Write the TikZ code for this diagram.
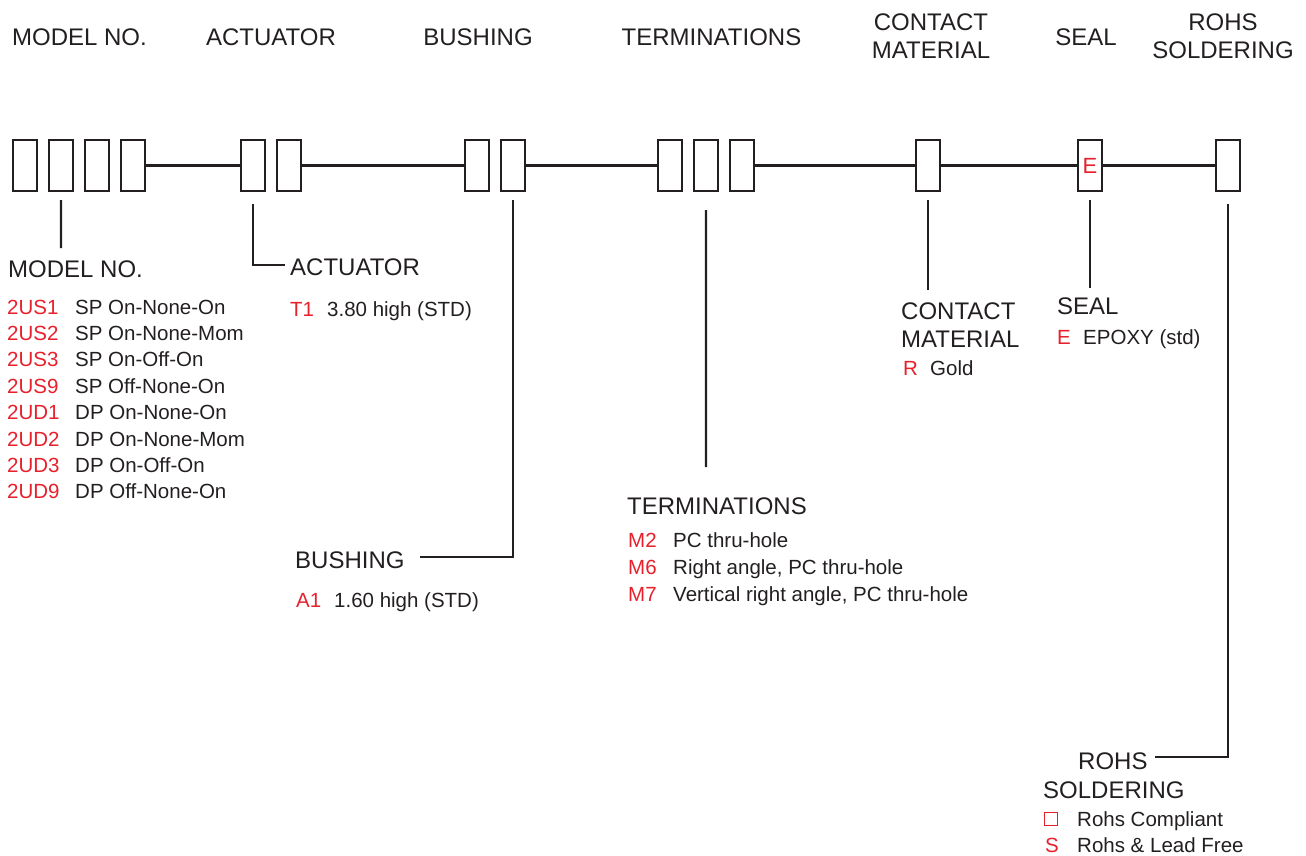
\documentclass[tikz,border=0pt]{standalone}
\usepackage{fontspec}
\setmainfont{Liberation Sans}
\usetikzlibrary{chains,positioning}
\definecolor{codered}{RGB}{232,32,44}
\definecolor{ink}{RGB}{35,31,32}
\tikzset{
  digit/.style={draw=ink,line width=2.2pt,minimum width=23.8pt,minimum height=50.8pt,inner sep=0pt},
  lead/.style={draw=ink,line width=2.2pt},
  hdrtext/.style={font=\fontsize{24}{28}\selectfont,text=ink,inner sep=0pt,align=center},
  grptext/.style={font=\fontsize{24}{28}\selectfont,text=ink,inner sep=0pt,anchor=base west,align=left},
  itemtext/.style={font=\fontsize{20.5}{24}\selectfont,text=ink,inner sep=0pt,anchor=base west},
  codetext/.style={itemtext,text=codered}
}
\begin{document}
\begin{tikzpicture}[x=1pt,y=-1pt]
\useasboundingbox (0,0) rectangle (1306,856);

\node[hdrtext] (hmodel) at (79.5,37) {MODEL NO.};
\node[hdrtext] (hact) at (271,37) {ACTUATOR};
\node[hdrtext] (hbush) at (478,37) {BUSHING};
\node[hdrtext] (hterm) at (711.5,37) {TERMINATIONS};
\node[hdrtext] (hcont) at (931,36) {CONTACT\\MATERIAL};
\node[hdrtext] (hseal) at (1086,37) {SEAL};
\node[hdrtext] (hrohs) at (1223,36) {ROHS\\SOLDERING};

\foreach \g/\n/\x in {m/4/25,a/2/253,b/2/477,t/3/670,c/1/928,s/1/1090,r/1/1228}
{
\begin{scope}[shift={(\x,165.5)},start chain=going right,node distance=10pt]
\foreach \i in {1,...,\n}
  \node [digit,on chain] (\g\i) {};
\end{scope}
}
\node[codetext,anchor=center,font=\fontsize{22}{24}\selectfont] (sE) at (s1.center) {E};

\draw[lead] (m4) -- (a1) (a2) -- (b1) (b2) -- (t1) (t3) -- (c1) (c1) -- (s1) (s1) -- (r1);

\coordinate (kmodel) at (61,248);
\coordinate (kact) at (285,265);
\coordinate (kbush) at (420,557);
\coordinate (kterm) at (706,467);
\coordinate (kcont) at (928,290);
\coordinate (kseal) at (1090,288);
\coordinate (krohs) at (1155,757);

\draw[lead] ([yshift=-8pt]m2.south) -- (kmodel);
\draw[lead] ([yshift=-12pt]a1.south) |- (kact);
\draw[lead] ([yshift=-8pt]b2.south) |- (kbush);
\draw[lead] ([yshift=-18pt]t2.south) -- (kterm);
\draw[lead] ([yshift=-8pt]c1.south) -- (kcont);
\draw[lead] ([yshift=-8pt]s1.south) -- (kseal);
\draw[lead] ([yshift=-12pt]r1.south) |- (krohs);

\node[grptext] (lmodel) at (8,277) {MODEL NO.};
\def\models{2US1/SP On-None-On,2US2/SP On-None-Mom,2US3/SP On-Off-On,2US9/SP Off-None-On,2UD1/DP On-None-On,2UD2/DP On-None-Mom,2UD3/DP On-Off-On,2UD9/DP Off-None-On}
\foreach \c/\d [count=\k] in \models
{
  \node[codetext] (mc\k) at (7,314+26.4*\k-26.4) {\c};
  \node[itemtext] (md\k) at (75,314+26.4*\k-26.4) {\d};
}

\node[grptext] (lact) at (290,275) {ACTUATOR};
\node[codetext] (ac1) at (290,316) {T1};
\node[itemtext] (ad1) at (327,316) {3.80 high (STD)};

\node[grptext] (lbush) at (295,568) {BUSHING};
\node[codetext] (bc1) at (296,607) {A1};
\node[itemtext] (bd1) at (334,607) {1.60 high (STD)};

\node[grptext] (lterm) at (627,514) {TERMINATIONS};
\def\terms{M2/PC thru-hole,M6/{Right angle, PC thru-hole},M7/{Vertical right angle, PC thru-hole}}
\foreach \c/\d [count=\k] in \terms
{
  \node[codetext] (tc\k) at (628,547+27*\k-27) {\c};
  \node[itemtext] (td\k) at (673,547+27*\k-27) {\d};
}

\node[grptext] (lcont) at (901,347) {CONTACT\\MATERIAL};
\node[codetext] (cc1) at (903,375) {R};
\node[itemtext] (cd1) at (930,375) {Gold};

\node[grptext] (lseal) at (1057,314) {SEAL};
\node[codetext] (sc1) at (1057,344) {E};
\node[itemtext] (sd1) at (1083,344) {EPOXY (std)};

\node[grptext] (lrohs) at (1078,769) {ROHS};
\node[grptext] (lsold) at (1043,798) {SOLDERING};
\node[draw=codered,line width=1.6pt,minimum size=13pt,inner sep=0pt] (rc1) at (1051,819) {};
\node[itemtext] (rd1) at (1077,826) {Rohs Compliant};
\node[codetext] (rc2) at (1045,852) {S};
\node[itemtext] (rd2) at (1077,852) {Rohs \& Lead Free};
\end{tikzpicture}
\end{document}
